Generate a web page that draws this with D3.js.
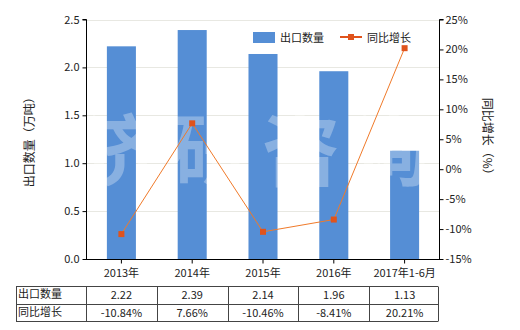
<!DOCTYPE html>
<html><head><meta charset="utf-8">
<script src="https://cdn.jsdelivr.net/npm/d3@7"></script>
<style>body{margin:0;background:#fff}svg{font-family:"Noto Sans CJK SC","Noto Sans",sans-serif}</style>
</head><body><svg id="c" width="520" height="330"></svg>
<script>
const categories = ["2013年","2014年","2015年","2016年","2017年1-6月"];
const exportQty = [2.22, 2.39, 2.14, 1.96, 1.13];
const growth = [-10.84, 7.66, -10.46, -8.41, 20.21];
const leftTicks = [0, 0.5, 1.0, 1.5, 2.0, 2.5];
const rightTicks = [-15, -10, -5, 0, 5, 10, 15, 20, 25];
const qtyLabels = ["2.22","2.39","2.14","1.96","1.13"];
const growthLabels = ["-10.84%","7.66%","-10.46%","-8.41%","20.21%"];

const svg = d3.select("#c");
const L = 86, R = 440, T = 19.5, B = 259;
const x = d3.scaleBand().domain(categories).range([L, R]).paddingInner(0.59).paddingOuter(0.295);
const y = d3.scaleLinear().domain([0, 2.5]).range([B, T]);
const y2 = d3.scaleLinear().domain([-15, 25]).range([B, T]);
const fs = 11;

// grid
svg.append("g").selectAll("line").data(leftTicks.slice(1)).join("line")
  .attr("x1", L).attr("x2", R).attr("y1", d => Math.round(y(d)) + 0.5).attr("y2", d => Math.round(y(d)) + 0.5)
  .attr("stroke", "#e8e8e2").attr("stroke-width", 1);

// bars
svg.append("g").selectAll("rect").data(exportQty).join("rect")
  .attr("x", (d, i) => x(categories[i])).attr("width", x.bandwidth())
  .attr("y", d => y(d)).attr("height", d => B - y(d)).attr("fill", "#558ed5");

// watermark
svg.append("text").attr("x", 262).attr("y", 180).attr("text-anchor", "middle")
  .attr("font-size", 78).attr("font-weight", "bold").attr("fill", "#fff").attr("opacity", 0.3)
  .attr("letter-spacing", 12).text("济研咨询");

// line
const cx = i => x(categories[i]) + x.bandwidth() / 2;
svg.append("path").datum(growth)
  .attr("d", d3.line().x((d, i) => cx(i)).y(d => y2(d)))
  .attr("fill", "none").attr("stroke", "#f07a2a").attr("stroke-width", 1);
svg.append("g").selectAll("rect").data(growth).join("rect")
  .attr("x", (d, i) => cx(i) - 3).attr("y", d => y2(d) - 3).attr("width", 6).attr("height", 6)
  .attr("fill", "#e0531c");

// axes
const ax = svg.append("g").attr("transform", `translate(${L + 0.5},0)`)
  .call(d3.axisLeft(y).tickValues(leftTicks).tickFormat(d3.format(".1f")).tickSize(4).tickPadding(3));
const ax2 = svg.append("g").attr("transform", `translate(${R - 0.5},0)`)
  .call(d3.axisRight(y2).tickValues(rightTicks).tickFormat(d => d + "%").tickSize(4).tickPadding(2));
const axb = svg.append("g").attr("transform", `translate(0,${B + 0.5})`)
  .call(d3.axisBottom(x).tickSize(4).tickPadding(6));
[ax, ax2, axb].forEach(g => {
  g.selectAll("path,line").attr("stroke", "#000");
  g.selectAll("text").attr("font-size", fs).attr("fill", "#222").attr("font-family", '"Noto Sans CJK SC",sans-serif');
});
ax.select(".domain").attr("d", `M-4,${T}H0V${B}`);
ax2.select(".domain").attr("d", `M4,${T}H0V${B}`);
axb.select(".domain").attr("d", `M${L},0H${R}`);

// axis titles
svg.append("text").attr("transform", `translate(34,${(T + B) / 2}) rotate(-90)`).attr("text-anchor", "middle")
  .attr("font-size", 12).attr("fill", "#222").text("出口数量（万吨）");
svg.append("text").attr("transform", `translate(483,${(T + B) / 2}) rotate(90)`).attr("text-anchor", "middle")
  .attr("font-size", 12).attr("fill", "#222").text("同比增长（%）");

// legend
svg.append("rect").attr("x", 253).attr("y", 32).attr("width", 22).attr("height", 11).attr("fill", "#558ed5");
svg.append("text").attr("x", 280).attr("y", 42).attr("font-size", fs).attr("fill", "#222").text("出口数量");
svg.append("line").attr("x1", 340).attr("x2", 362).attr("y1", 37).attr("y2", 37).attr("stroke", "#e0531c").attr("stroke-width", 2);
svg.append("rect").attr("x", 348).attr("y", 34).attr("width", 6).attr("height", 6).attr("fill", "#e0531c");
svg.append("text").attr("x", 367).attr("y", 42).attr("font-size", fs).attr("fill", "#222").text("同比增长");

// table
const rowY = [286, 303.5, 321];
const colX = [16, L, ...categories.map(c => x(c) + x.bandwidth() / 2 + x.step() / 2)];
colX[colX.length - 1] = R - 2;
const tg = svg.append("g").attr("stroke", "#444").attr("stroke-width", 1);
rowY.forEach(yy => tg.append("line").attr("x1", colX[0]).attr("x2", colX[colX.length - 1]).attr("y1", Math.round(yy) + 0.5).attr("y2", Math.round(yy) + 0.5));
colX.forEach(xx => tg.append("line").attr("x1", Math.round(xx) + 0.5).attr("x2", Math.round(xx) + 0.5).attr("y1", Math.round(rowY[0]) + 0.5).attr("y2", Math.round(rowY[2]) + 0.5));
const rows = [["出口数量", qtyLabels], ["同比增长", growthLabels]];
rows.forEach((r, ri) => {
  const ty = rowY[ri] + 13;
  svg.append("text").attr("x", 18).attr("y", ty - 1).attr("font-size", fs).attr("fill", "#222").text(r[0]);
  r[1].forEach((v, i) => svg.append("text").attr("x", cx(i)).attr("y", ty).attr("text-anchor", "middle")
    .attr("font-size", fs).attr("fill", "#222").text(v));
});
</script></body></html>
